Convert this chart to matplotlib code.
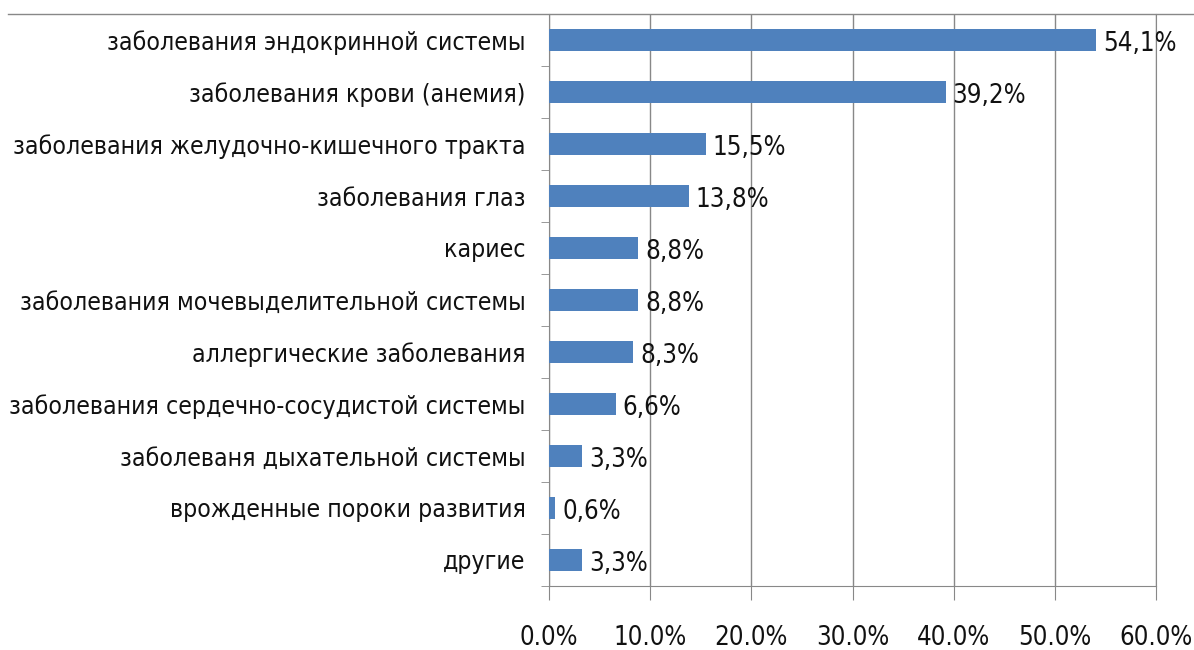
import matplotlib.pyplot as plt
from matplotlib.lines import Line2D
import numpy as np

# Categories and shares (%), top to bottom
categories = ['заболевания эндокринной системы', 'заболевания крови (анемия)',
              'заболевания желудочно-кишечного тракта', 'заболевания глаз', 'кариес',
              'заболевания мочевыделительной системы', 'аллергические заболевания',
              'заболевания сердечно-сосудистой системы', 'заболеваня дыхательной системы',
              'врожденные пороки развития', 'другие']
values = [54.1, 39.2, 15.5, 13.8, 8.8, 8.8, 8.3, 6.6, 3.3, 0.6, 3.3]
value_labels = ['54,1%', '39,2%', '15,5%', '13,8%', '8,8%', '8,8%', '8,3%', '6,6%', '3,3%', '0,6%', '3,3%']
xticks = [0, 10, 20, 30, 40, 50, 60]
xtick_labels = ['0.0%', '10.0%', '20.0%', '30.0%', '40.0%', '50.0%', '60.0%']

plt.rcParams['font.family'] = ['DejaVu Sans']
plt.rcParams['font.stretch'] = 'condensed'

fig = plt.figure(figsize=(11.94, 6.5), dpi=100)
ax = fig.add_axes([549/1194, 1 - 586/650, (1156-549)/1194, (586-14)/650])

y = np.arange(len(categories))
ax.barh(y, values, height=0.42, color='#4F81BD', zorder=3)

# value labels next to bars
for yi, v, lab in zip(y, values, value_labels):
    ax.text(v + 0.7, yi + 0.08, lab, va='center', ha='left', fontsize=18.5, color='#111111', zorder=4)

ax.set_ylim(len(categories) - 0.5, -0.5)
ax.set_xlim(0, 60)
ax.set_yticks(y)
ax.set_yticklabels(categories, fontsize=17.8, color='#111111')
ax.set_yticks(np.arange(len(categories) + 1) - 0.5, minor=True)
ax.tick_params(axis='y', which='major', length=0, pad=17)
ax.tick_params(axis='y', which='minor', length=6, color='#888888', direction='out')

ax.set_xticks(xticks)
ax.set_xticklabels(xtick_labels, fontsize=18.5, color='#111111')
ax.tick_params(axis='x', length=10, color='#888888', pad=18)

ax.grid(axis='x', color='#888888', linewidth=1, zorder=0)
ax.spines['top'].set_visible(False)
for s in ['left', 'bottom', 'right']:
    ax.spines[s].set_color('#888888')

# top rule across the page
fig.add_artist(Line2D([8/1194, 1], [1 - 14/650, 1 - 14/650], color='#888888', linewidth=1))

fig.savefig('out.png', dpi=100)
